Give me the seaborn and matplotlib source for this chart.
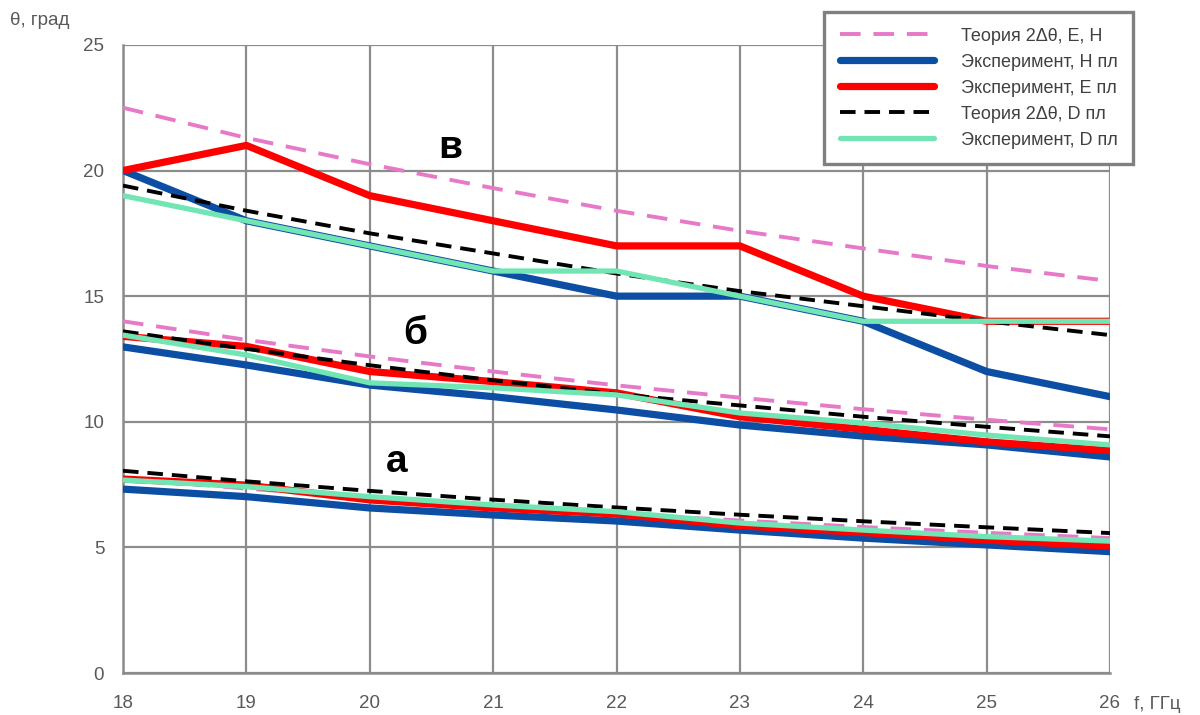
import matplotlib
matplotlib.use("Agg")
import matplotlib.pyplot as plt
import seaborn as sns
import pandas as pd
from matplotlib.lines import Line2D

# Frequency grid, GHz
freq = [18, 19, 20, 21, 22, 23, 24, 25, 26]

# Group "в"
theory_eh_v = [22.5, 21.3, 20.25, 19.3, 18.4, 17.6, 16.9, 16.2, 15.6]
exp_h_v = [20, 18, 17, 16, 15, 15, 14, 12, 11]
exp_e_v = [20, 21, 19, 18, 17, 17, 15, 14, 14]
theory_d_v = [19.4, 18.4, 17.5, 16.7, 15.9, 15.2, 14.6, 14.0, 13.45]
exp_d_v = [19, 18, 17, 16, 16, 15, 14, 14, 14]

# Group "б"
theory_eh_b = [14.0, 13.26, 12.6, 12.0, 11.45, 10.96, 10.5, 10.08, 9.7]
exp_h_b = [12.98, 12.26, 11.46, 11.0, 10.47, 9.87, 9.43, 9.08, 8.6]
exp_e_b = [13.4, 13.0, 12.0, 11.6, 11.15, 10.2, 9.7, 9.2, 8.85]
theory_d_b = [13.6, 12.9, 12.25, 11.65, 11.1, 10.65, 10.2, 9.8, 9.42]
exp_d_b = [13.45, 12.66, 11.55, 11.35, 11.07, 10.35, 9.95, 9.47, 9.08]

# Group "а"
theory_eh_a = [7.75, 7.34, 6.98, 6.64, 6.34, 6.07, 5.81, 5.58, 5.37]
exp_h_a = [7.32, 7.02, 6.57, 6.29, 6.05, 5.69, 5.37, 5.1, 4.83]
exp_e_a = [7.72, 7.48, 6.89, 6.57, 6.33, 5.86, 5.59, 5.29, 5.05]
theory_d_a = [8.05, 7.63, 7.25, 6.9, 6.59, 6.3, 6.04, 5.8, 5.57]
exp_d_a = [7.68, 7.42, 7.02, 6.69, 6.42, 5.97, 5.69, 5.43, 5.25]

series_names = ["Теория 2Δθ, E, H", "Эксперимент, H пл", "Эксперимент, E пл",
                "Теория 2Δθ, D пл", "Эксперимент, D пл"]
groups = {
    "в": [theory_eh_v, exp_h_v, exp_e_v, theory_d_v, exp_d_v],
    "б": [theory_eh_b, exp_h_b, exp_e_b, theory_d_b, exp_d_b],
    "а": [theory_eh_a, exp_h_a, exp_e_a, theory_d_a, exp_d_a],
}
group_labels = ["а", "б", "в"]
group_label_x = [20.22, 20.37, 20.65]
group_label_y = [8.4, 13.5, 20.9]

x_ticks = [18, 19, 20, 21, 22, 23, 24, 25, 26]
y_ticks = [0, 5, 10, 15, 20, 25]

styles = [
    dict(color="#E679C8", lw=2.8, dashes=(5.3, 3.3)),
    dict(color="#0B4EA3", lw=5.2, dashes=None),
    dict(color="#FF0000", lw=5.2, dashes=None),
    dict(color="#000000", lw=2.8, dashes=(4.0, 2.3)),
    dict(color="#72E5B4", lw=3.8, dashes=None),
]

sns.set_theme(style="white")
plt.rcParams["font.family"] = ["Liberation Sans", "DejaVu Sans"]

fig = plt.figure(figsize=(12, 7.15), dpi=100)
ax = fig.add_axes([0.1025, 0.0587, 0.8225, 0.8785])

grid_color = "#8C8C8C"
for gname, vals in groups.items():
    for i, (yv, st) in enumerate(zip(vals, styles)):
        df = pd.DataFrame({"f": freq, "theta": yv})
        sns.lineplot(data=df, x="f", y="theta", ax=ax, color=st["color"],
                     linewidth=st["lw"], zorder=3 + i, legend=False)
        ln = ax.lines[-1]
        ln.set_solid_capstyle("round")
        ln.set_solid_joinstyle("round")
        if st["dashes"] is not None:
            ln.set_dashes(st["dashes"])
            ln.set_dash_capstyle("butt")

for lab, lx, ly in zip(group_labels, group_label_x, group_label_y):
    ax.text(lx, ly, lab, fontsize=28, fontweight="bold", color="black",
            ha="center", va="center", zorder=10)

ax.set_xlim(18, 26)
ax.set_ylim(0, 25)
ax.set_xticks(x_ticks)
ax.set_yticks(y_ticks)
ax.set_xlabel("")
ax.set_ylabel("")
ax.grid(True, color=grid_color, linewidth=1.6, zorder=0)
ax.set_axisbelow(True)
for side in ["top", "right"]:
    ax.spines[side].set_visible(False)
for side in ["left", "bottom"]:
    ax.spines[side].set_color(grid_color)
    ax.spines[side].set_linewidth(1.8)
ax.tick_params(axis="both", which="major", direction="out", length=4.5,
               width=1.8, color=grid_color, labelsize=13.5,
               labelcolor="#595959")
ax.tick_params(axis="y", pad=9)
ax.tick_params(axis="x", pad=11)

fig.text(0.008, 0.972, "θ, град", fontsize=13.5, color="#595959",
         ha="left", va="center")
fig.text(0.945, 0.015, "f, ГГц", fontsize=13.5, color="#595959",
         ha="left", va="center")

handles = []
for st, name in zip(styles, series_names):
    h = Line2D([], [], color=st["color"], linewidth=st["lw"],
               solid_capstyle="round")
    if st["dashes"] is not None:
        h.set_dashes(st["dashes"])
    handles.append(h)
leg = fig.legend(handles=handles, labels=series_names,
                 loc="upper right", bbox_to_anchor=(0.944, 0.983),
                 fontsize=13, frameon=True, fancybox=False,
                 handlelength=5.2, handletextpad=1.5, labelspacing=0.5,
                 borderpad=0.85, borderaxespad=0)
leg.get_frame().set_edgecolor("#808080")
leg.get_frame().set_linewidth(2.4)
leg.get_frame().set_facecolor("white")
leg.get_frame().set_alpha(1)
for t in leg.get_texts():
    t.set_color("#404040")

fig.savefig("out.png", dpi=100)
